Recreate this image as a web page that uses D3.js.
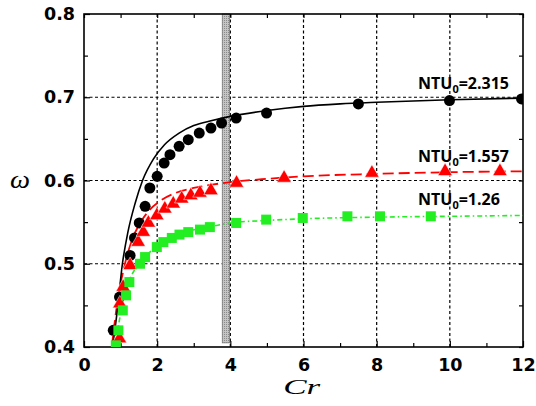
<!DOCTYPE html>
<html>
<head>
<meta charset="utf-8">
<script src="https://cdn.jsdelivr.net/npm/d3@7"></script>
<style>
  body { margin: 0; background: #fff; }
  svg { display: block; }
</style>
</head>
<body>
<svg id="chart"></svg>
<script>
// NTU0 = 2.315 (black circles, solid line)
const blackPts = [
  [0.80, 0.420], [0.97, 0.460], [1.26, 0.510], [1.38, 0.531], [1.51, 0.549],
  [1.67, 0.569], [1.80, 0.591], [2.00, 0.605], [2.19, 0.621], [2.35, 0.631],
  [2.60, 0.641], [2.85, 0.649], [3.15, 0.657], [3.47, 0.663], [3.76, 0.669],
  [4.16, 0.675], [4.99, 0.681], [7.50, 0.692], [9.99, 0.696], [11.96, 0.698]
];
const blackLine = [
  [0.78, 0.400], [0.90, 0.440], [1.05, 0.500], [1.20, 0.538], [1.40, 0.573],
  [1.60, 0.600], [1.90, 0.626], [2.20, 0.643], [2.60, 0.657], [3.00, 0.666],
  [3.50, 0.672], [4.00, 0.677], [5.00, 0.684], [6.00, 0.689], [7.00, 0.692],
  [8.00, 0.694], [10.0, 0.697], [12.0, 0.699]
];

// NTU0 = 1.557 (red triangles, dashed line)
const redPts = [
  [0.97, 0.410], [0.98, 0.452], [1.07, 0.472], [1.26, 0.498], [1.48, 0.526],
  [1.62, 0.538], [1.76, 0.549], [1.99, 0.558], [2.21, 0.566], [2.44, 0.572],
  [2.67, 0.578], [2.92, 0.582], [3.17, 0.585], [3.47, 0.588], [4.17, 0.597],
  [5.47, 0.603], [7.87, 0.609], [9.87, 0.611], [11.37, 0.611]
];
const redLine = [
  [0.76, 0.400], [0.90, 0.450], [1.12, 0.500], [1.30, 0.527], [1.55, 0.550],
  [1.80, 0.565], [2.10, 0.576], [2.50, 0.585], [3.00, 0.591], [3.50, 0.595],
  [4.00, 0.598], [5.00, 0.602], [6.00, 0.605], [8.00, 0.608], [10.0, 0.610],
  [12.0, 0.611]
];

// NTU0 = 1.26 (green squares, dash-dot line)
const greenPts = [
  [0.87, 0.402], [0.94, 0.420], [1.06, 0.444], [1.15, 0.462], [1.24, 0.478],
  [1.53, 0.500], [1.67, 0.508], [1.99, 0.520], [2.17, 0.526], [2.40, 0.531],
  [2.61, 0.535], [2.85, 0.538], [3.17, 0.541], [3.44, 0.544], [4.16, 0.549],
  [4.98, 0.553], [5.98, 0.555], [7.20, 0.557], [8.09, 0.557], [9.48, 0.557]
];
const greenLine = [
  [0.85, 0.400], [1.00, 0.440], [1.20, 0.475], [1.50, 0.500], [1.80, 0.514],
  [2.20, 0.527], [2.80, 0.538], [3.50, 0.545], [4.00, 0.549], [5.00, 0.552],
  [6.00, 0.554], [8.00, 0.556], [10.0, 0.557], [12.0, 0.558]
];

const seriesLabels = ['2.315', '1.557', '1.26'];
const bandRange = [3.78, 3.98];

const xTicks = [0, 2, 4, 6, 8, 10, 12];
const xMinor = [1, 3, 5, 7, 9, 11];
const yTicks = [0.4, 0.5, 0.6, 0.7, 0.8];
const yMinor = [0.45, 0.55, 0.65, 0.75];

const width = 536, height = 406;
const margin = { top: 14, right: 13, bottom: 59, left: 84 };
const iw = width - margin.left - margin.right;
const ih = height - margin.top - margin.bottom;

const svg = d3.select('#chart').attr('width', width).attr('height', height);

const x = d3.scaleLinear().domain([0, 12]).range([margin.left, width - margin.right]);
const y = d3.scaleLinear().domain([0.4, 0.8]).range([height - margin.bottom, margin.top]);

const defs = svg.append('defs');
defs.append('clipPath').attr('id', 'clip')
  .append('rect').attr('x', margin.left).attr('y', margin.top).attr('width', iw).attr('height', ih);

const pat = defs.append('pattern').attr('id', 'dots')
  .attr('width', 2).attr('height', 2).attr('patternUnits', 'userSpaceOnUse');
pat.append('rect').attr('width', 2).attr('height', 2).attr('fill', '#c4c4c4');
pat.append('rect').attr('width', 1).attr('height', 1).attr('fill', '#8a8a8a');

// grid
const grid = svg.append('g').attr('stroke', '#000').attr('stroke-width', 1.2).attr('stroke-dasharray', '3,2.5');
grid.selectAll('.gx').data(xTicks.slice(1, -1)).join('line')
  .attr('x1', d => x(d)).attr('x2', d => x(d)).attr('y1', margin.top).attr('y2', height - margin.bottom);
grid.selectAll('.gy').data(yTicks.slice(1, -1)).join('line')
  .attr('y1', d => y(d)).attr('y2', d => y(d)).attr('x1', margin.left).attr('x2', width - margin.right);

// grey band
svg.append('rect')
  .attr('x', x(bandRange[0])).attr('width', x(bandRange[1]) - x(bandRange[0]))
  .attr('y', margin.top).attr('height', y(0.405) - margin.top)
  .attr('fill', 'url(#dots)').attr('stroke', '#777').attr('stroke-width', 0.8);

// axes with inward ticks
const tickFont = g => g.selectAll('text')
  .attr('font-family', 'DejaVu Sans, sans-serif').attr('font-weight', 'bold')
  .attr('font-size', 17.5).attr('fill', '#000');
const axStyle = g => { g.select('.domain').remove(); g.selectAll('line').attr('stroke', '#000').attr('stroke-width', 1.2); };

svg.append('g').attr('transform', `translate(0,${height - margin.bottom})`)
  .call(d3.axisBottom(x).tickValues(xTicks).tickSizeInner(-6).tickSizeOuter(0).tickPadding(12).tickFormat(d3.format('d')))
  .call(axStyle).call(tickFont);
svg.append('g').attr('transform', `translate(0,${height - margin.bottom})`)
  .call(d3.axisBottom(x).tickValues(xMinor).tickSizeInner(-4).tickSizeOuter(0).tickFormat(''))
  .call(axStyle);
svg.append('g').attr('transform', `translate(0,${margin.top})`)
  .call(d3.axisTop(x).tickValues(xTicks.concat(xMinor)).tickSizeInner(-4).tickSizeOuter(0).tickFormat(''))
  .call(axStyle);

svg.append('g').attr('transform', `translate(${margin.left},0)`)
  .call(d3.axisLeft(y).tickValues(yTicks).tickSizeInner(-6).tickSizeOuter(0).tickPadding(9).tickFormat(d3.format('.1f')))
  .call(axStyle).call(tickFont);
svg.append('g').attr('transform', `translate(${margin.left},0)`)
  .call(d3.axisLeft(y).tickValues(yMinor).tickSizeInner(-4).tickSizeOuter(0).tickFormat(''))
  .call(axStyle);
svg.append('g').attr('transform', `translate(${width - margin.right},0)`)
  .call(d3.axisRight(y).tickValues(yTicks.concat(yMinor)).tickSizeInner(-4).tickSizeOuter(0).tickFormat(''))
  .call(axStyle);

// frame
svg.append('rect').attr('x', margin.left).attr('y', margin.top).attr('width', iw).attr('height', ih)
  .attr('fill', 'none').attr('stroke', '#000').attr('stroke-width', 1.6);

// lines
const line = d3.line().x(d => x(d[0])).y(d => y(d[1])).curve(d3.curveMonotoneX);
const plot = svg.append('g').attr('clip-path', 'url(#clip)');

plot.append('path').datum(greenLine).attr('d', line).attr('fill', 'none')
  .attr('stroke', '#22ee22').attr('stroke-width', 1.6).attr('stroke-dasharray', '5,3,1.5,3');
plot.append('path').datum(redLine).attr('d', line).attr('fill', 'none')
  .attr('stroke', '#ff0000').attr('stroke-width', 1.8).attr('stroke-dasharray', '11,5');
plot.append('path').datum(blackLine).attr('d', line).attr('fill', 'none')
  .attr('stroke', '#000').attr('stroke-width', 1.6);

// markers (black under red under green, as in the source)
plot.selectAll('.ci').data(blackPts).join('circle')
  .attr('cx', d => x(d[0])).attr('cy', d => y(d[1])).attr('r', 5.5).attr('fill', '#000');
const tri = d3.symbol().type(d3.symbolTriangle).size(90);
plot.selectAll('.tr').data(redPts).join('path')
  .attr('d', tri).attr('transform', d => `translate(${x(d[0])},${y(d[1])})`)
  .attr('fill', '#ff0000').attr('stroke', '#fff').attr('stroke-width', 0.5);
plot.selectAll('.sq').data(greenPts).join('rect')
  .attr('x', d => x(d[0]) - 5).attr('y', d => y(d[1]) - 5)
  .attr('width', 10).attr('height', 10).attr('fill', '#22ee22');

// NTU labels
const labelY = [0.71, 0.622, 0.5706];
seriesLabels.forEach((v, i) => {
  const t = svg.append('text').attr('x', x(9.13)).attr('y', y(labelY[i]))
    .attr('font-family', 'Open Sans, sans-serif').attr('font-weight', 'bold')
    .attr('font-size', 16).attr('fill', '#000');
  t.append('tspan').text('NTU');
  t.append('tspan').text('0').attr('font-size', 11).attr('dy', 4);
  t.append('tspan').text('=' + v).attr('dy', -4);
});

// axis titles
svg.append('text').attr('x', x(5.95)).attr('y', 394).attr('text-anchor', 'middle')
  .attr('font-family', 'Liberation Serif, serif').attr('font-style', 'italic')
  .attr('font-size', 22).attr('textLength', 37).attr('lengthAdjust', 'spacingAndGlyphs').text('Cr');
svg.append('text').attr('x', 10).attr('y', 188)
  .attr('font-family', 'Liberation Serif, serif').attr('font-style', 'italic')
  .attr('font-size', 26).attr('textLength', 20).attr('lengthAdjust', 'spacingAndGlyphs').text('ω');
</script>
</body>
</html>
